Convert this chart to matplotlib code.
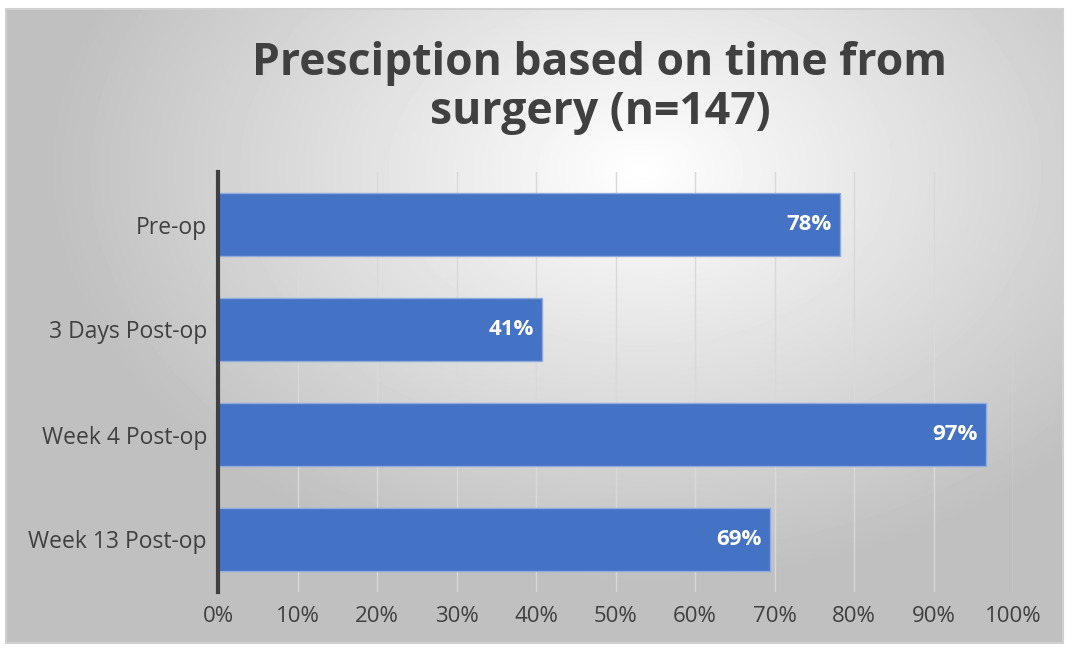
import numpy as np
import matplotlib
matplotlib.use("Agg")
from matplotlib import pyplot as plt
from matplotlib.patches import Rectangle

# Chart data (share of n=147; labels show rounded values)
categories = ["Pre-op", "3 Days Post-op", "Week 4 Post-op", "Week 13 Post-op"]
values = [78.2, 40.8, 96.6, 69.4]
x_ticks = list(range(0, 101, 10))
title = "Presciption based on time from\nsurgery (n=147)"

W, H = 1071, 648
dpi = 100
fig = plt.figure(figsize=(W / dpi, H / dpi), dpi=dpi)
fig.patch.set_facecolor("white")

# Radial gradient background inside the chart frame
bg = fig.add_axes([0, 0, 1, 1])
bg.set_xlim(0, W)
bg.set_ylim(H, 0)
bg.axis("off")
left, top, right, bottom = 6, 9, 1063, 643
yy, xx = np.mgrid[top:bottom, left:right]
d = np.sqrt(((xx - 640) / 620.0) ** 2 + ((yy - 170) / 430.0) ** 2)
shade = np.clip(1.0 - 0.26 * d, 0.75, 1.0)
bg.imshow(shade, cmap="gray", vmin=0, vmax=1, extent=(left, right, bottom, top),
          aspect="auto", interpolation="bilinear")
bg.add_patch(Rectangle((left, top), right - left, bottom - top, fill=False,
                       edgecolor="#d0d0d0", linewidth=1.5))

fig.text(600 / W, 1 - 88 / H, title, ha="center", va="center",
         fontsize=32, fontweight="bold", color="#404040", family="Open Sans",
         linespacing=1.1)

# Plot area
ax = fig.add_axes([218 / W, 1 - 592 / H, (1013 - 218) / W, (592 - 172) / H])
ax.patch.set_alpha(0)
y = np.arange(len(categories))
bars = ax.barh(y, values, height=0.6, color="#4472C4", edgecolor="#8FAADC",
               linewidth=1, zorder=3)
ax.set_ylim(len(categories) - 0.5, -0.5)
ax.set_xlim(0, 100)
ax.set_yticks(y)
ax.set_yticklabels(categories, fontsize=16.5, color="#404040", family="Open Sans")
ax.set_xticks(x_ticks)
ax.set_xticklabels([f"{t}%" for t in x_ticks], fontsize=16, color="#404040",
                   family="Open Sans")
ax.tick_params(length=0, pad=8)
ax.tick_params(axis="x", pad=10)
ax.grid(axis="x", color="#d9d9d9", linewidth=1, zorder=0)
for s in ["top", "right", "bottom"]:
    ax.spines[s].set_visible(False)
ax.spines["left"].set_color("#404040")
ax.spines["left"].set_linewidth(3)
ax.spines["left"].set_zorder(4)

for b, v in zip(bars, values):
    ax.text(v - 1.0, b.get_y() + b.get_height() / 2, f"{v:.0f}%", ha="right",
            va="center", color="white", fontsize=16, fontweight="bold",
            family="Open Sans", zorder=5)

fig.savefig("out.png", dpi=dpi)
